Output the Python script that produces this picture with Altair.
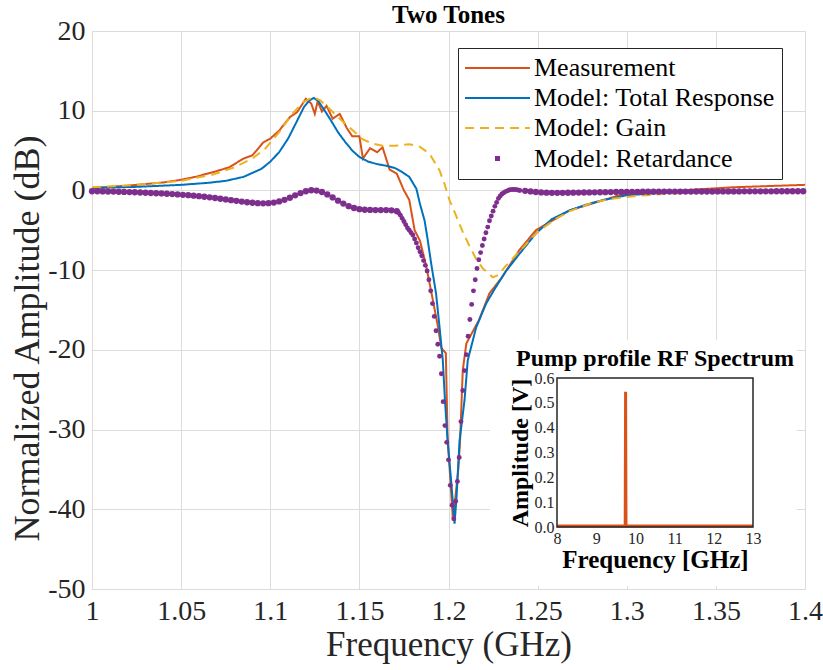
import altair as alt
import numpy as np
import pandas as pd

FONT = "Liberation Serif"

SERIES = ["Measurement", "Model: Total Response", "Model: Gain", "Model: Retardance"]
COLORS = ["#D95319", "#0072BD", "#EDB120", "#7E2F8E"]
DASHES = [[1, 0], [1, 0], [9, 6], [0, 30, 5, 100]]
WIDTHS = [2, 2, 2, 5]

X_TICKS = [1.0, 1.05, 1.1, 1.15, 1.2, 1.25, 1.3, 1.35, 1.4]
Y_TICKS = [-50, -40, -30, -20, -10, 0, 10, 20]

MEAS_F = [1.000, 1.010, 1.020, 1.030, 1.040, 1.049, 1.058, 1.068, 1.077, 1.085,
          1.090, 1.096, 1.100, 1.105, 1.111, 1.115, 1.120, 1.123, 1.125, 1.1266,
          1.129, 1.1316, 1.135, 1.139, 1.143, 1.146, 1.150, 1.152, 1.156, 1.160,
          1.163, 1.167, 1.171, 1.175, 1.178, 1.181, 1.184, 1.1875, 1.191, 1.194,
          1.196, 1.1985, 1.1995, 1.2025, 1.2055, 1.2065, 1.208, 1.210, 1.217, 1.223,
          1.230, 1.2397, 1.249, 1.268, 1.296, 1.323, 1.360, 1.400]
MEAS_DB = [0.3, 0.45, 0.6, 0.8, 1.0, 1.3, 1.7, 2.3, 2.9, 4.0,
           4.4, 6.0, 6.5, 7.5, 9.2, 9.8, 11.5, 10.9, 9.6, 11.2,
           9.9, 10.6, 9.0, 9.6, 7.8, 6.8, 6.8, 4.0, 5.3, 4.8,
           5.4, 2.6, 2.1, 0.0, -1.2, -5.0, -6.3, -9.5, -13.5, -17.0,
           -19.8, -20.4, -31.0, -41.4, -35.0, -31.4, -22.6, -19.2, -16.3, -12.9,
           -10.9, -7.5, -5.0, -2.5, -0.6, -0.1, 0.4, 0.7]

TOTAL_F = [1.000, 1.025, 1.050, 1.065, 1.075, 1.085, 1.095, 1.100, 1.105, 1.110,
           1.115, 1.119, 1.122, 1.1245, 1.127, 1.130, 1.134, 1.138, 1.142, 1.146,
           1.150, 1.155, 1.160, 1.165, 1.170, 1.174, 1.178, 1.182, 1.184, 1.1866,
           1.1884, 1.1903, 1.193, 1.195, 1.1968, 1.198, 1.1995, 1.2015, 1.2034, 1.2045,
           1.2062, 1.209, 1.2108, 1.2155, 1.2211, 1.2258, 1.232, 1.240, 1.249, 1.258,
           1.268, 1.277, 1.286, 1.300, 1.320, 1.340, 1.370, 1.400]
TOTAL_DB = [0.3, 0.45, 0.7, 0.95, 1.2, 1.7, 2.7, 3.6, 4.8, 6.5,
            8.7, 10.5, 11.3, 11.6, 11.2, 10.2, 8.8, 7.3, 6.1, 5.0,
            4.2, 3.6, 3.3, 3.1, 2.8, 2.3, 1.7, 0.2, -1.7, -3.8,
            -6.3, -9.2, -12.9, -17.2, -21.3, -26.3, -31.4, -36.5, -41.8, -38.5,
            -31.4, -26.3, -21.3, -17.2, -14.2, -12.4, -10.2, -7.9, -5.4, -3.6,
            -2.5, -1.8, -1.25, -0.6, -0.3, -0.15, -0.05, 0.0]

GAIN_F = [1.000, 1.025, 1.050, 1.068, 1.080, 1.090, 1.097, 1.105, 1.112, 1.118,
          1.124, 1.128, 1.133, 1.138, 1.143, 1.148, 1.152, 1.157, 1.163, 1.170,
          1.178, 1.1838, 1.1894, 1.195, 1.1978, 1.2006, 1.2043, 1.208, 1.2118, 1.2155,
          1.2193, 1.2248, 1.228, 1.232, 1.240, 1.250, 1.260, 1.268, 1.280, 1.290,
          1.305, 1.320, 1.340, 1.360, 1.380, 1.400]
GAIN_DB = [0.4, 0.7, 1.2, 2.0, 2.9, 4.0, 5.2, 7.3, 9.5, 11.0,
           11.7, 11.3, 10.3, 9.2, 8.2, 7.2, 6.4, 5.9, 5.6, 5.6,
           5.8, 5.5, 4.6, 2.5, 0.8, -1.25, -3.2, -5.2, -7.0, -8.6,
           -9.8, -10.9, -10.6, -9.5, -7.6, -5.2, -3.6, -2.6, -1.6, -1.1,
           -0.7, -0.45, -0.25, -0.12, -0.05, 0.0]

RET_A_START, RET_A_STEP = 1.000, 0.003
RET_A_DB = [-0.10, -0.10, -0.12, -0.13, -0.15, -0.17, -0.19, -0.21, -0.23, -0.26,
            -0.29, -0.32, -0.35, -0.38, -0.42, -0.46, -0.50, -0.55, -0.60, -0.66,
            -0.72, -0.79, -0.87, -0.95, -1.04, -1.13, -1.22, -1.31, -1.40, -1.48,
            -1.55, -1.60, -1.62, -1.60, -1.52, -1.38, -1.18, -0.92, -0.62, -0.33,
            -0.10, 0.02, -0.02, -0.20, -0.50, -0.88, -1.28, -1.65, -1.98, -2.20,
            -2.35, -2.42, -2.45, -2.46, -2.46, -2.47, -2.50, -2.60]
RET_B_START, RET_B_STEP = 1.172, 0.001
RET_B_DB = [-2.8, -3.1, -3.5, -3.9, -4.3, -4.7, -5.0, -5.3, -5.6,
            -6.1, -6.6, -7.2, -7.7, -8.2, -8.8, -9.4, -10.1, -11.2, -12.6,
            -14.2, -15.8, -17.6, -19.3, -20.8, -23.0, -26.5, -29.5, -31.6, -33.8,
            -37.0, -39.5, -41.2, -39.0, -36.5, -33.5, -29.0, -25.1, -22.6, -20.6,
            -18.3, -16.2, -14.3, -12.6, -11.2, -9.8, -8.7, -7.8, -6.9, -6.1,
            -5.3, -4.6, -3.8, -3.2, -2.6, -2.0, -1.5, -1.0, -0.7, -0.45,
            -0.3, -0.15, -0.05, 0.05, 0.1, 0.12, 0.12, 0.1, 0.05, 0.0]
RET_C_START, RET_C_STEP = 1.243, 0.003
RET_C_DB = [-0.05, -0.12, -0.2, -0.25, -0.28, -0.3, -0.3, -0.3, -0.29, -0.28,
            -0.27, -0.26, -0.25, -0.24, -0.23, -0.22, -0.21, -0.2, -0.2, -0.19,
            -0.18, -0.18, -0.17, -0.17, -0.16, -0.16, -0.15, -0.15, -0.15, -0.14,
            -0.14, -0.14, -0.13, -0.13, -0.13, -0.13, -0.12, -0.12, -0.12, -0.12,
            -0.12, -0.11, -0.11, -0.11, -0.11, -0.11, -0.11, -0.1, -0.1, -0.1,
            -0.1, -0.1, -0.1]

INSET_X_TICKS = [8, 9, 10, 11, 12, 13]
INSET_Y_TICKS = [0.0, 0.1, 0.2, 0.3, 0.4, 0.5, 0.6]
INSET_GHZ = [8.0, 9.74, 9.75, 9.76, 13.0]
INSET_AMP = [0.004, 0.004, 0.545, 0.004, 0.004]

# ---------------- data tables ----------------
lines_df = pd.concat([
    pd.DataFrame({"freq": MEAS_F, "db": MEAS_DB, "series": SERIES[0]}),
    pd.DataFrame({"freq": TOTAL_F, "db": TOTAL_DB, "series": SERIES[1]}),
    pd.DataFrame({"freq": GAIN_F, "db": GAIN_DB, "series": SERIES[2]}),
], ignore_index=True)


def block(start, step, vals):
    return pd.DataFrame({"freq": np.round(start + step * np.arange(len(vals)), 4), "db": vals})


ret_flat_df = pd.concat([
    block(RET_A_START, RET_A_STEP, RET_A_DB),
    block(RET_C_START, RET_C_STEP, RET_C_DB),
], ignore_index=True)
ret_steep_df = block(RET_B_START, RET_B_STEP, RET_B_DB)

inset_df = pd.DataFrame({"ghz": INSET_GHZ, "amp": INSET_AMP})
frame_df = pd.DataFrame({"ghz": [INSET_X_TICKS[0]], "ghz2": [INSET_X_TICKS[-1]],
                         "amp": [INSET_Y_TICKS[0]], "amp2": [INSET_Y_TICKS[-1]]})

# ---------------- main axes ----------------
x_main = alt.X("freq:Q", title="Frequency (GHz)",
               scale=alt.Scale(domain=[1.0, 1.4], nice=False, zero=False),
               axis=alt.Axis(values=X_TICKS, labelExpr="'' + datum.value", grid=True,
                             gridColor="#dcdcdc", ticks=False, domain=False,
                             labelFont=FONT, labelFontSize=28, labelColor="#262626",
                             titleFont=FONT, titleFontSize=35, titleFontWeight="normal",
                             titleColor="#262626", labelPadding=8, titlePadding=2,
                             labelFlush=False, labelOverlap=False))
y_main = alt.Y("db:Q", title="Normalized Amplitude (dB)",
               scale=alt.Scale(domain=[-50, 20], nice=False, zero=False),
               axis=alt.Axis(values=Y_TICKS, labelExpr="'' + datum.value", grid=True,
                             gridColor="#dcdcdc", ticks=False, domain=False,
                             labelFont=FONT, labelFontSize=28, labelColor="#262626",
                             titleFont=FONT, titleFontSize=36, titleFontWeight="normal",
                             titleColor="#262626", labelPadding=7, titlePadding=1,
                             titleY=307, labelFlush=False, labelOverlap=False))

LEGEND = alt.Legend(
    title=None, orient="none", legendX=366, legendY=17, fillColor="white",
    strokeColor="#262626", padding=7,
    labelFont=FONT, labelFontSize=26, labelColor="black", labelLimit=400,
    symbolType="M-3,0H3", symbolSize=469, symbolOffset=19, labelOffset=23,
    rowPadding=4,
)

lines = alt.Chart(lines_df).mark_line().encode(
    x=x_main,
    y=y_main,
    color=alt.Color("series:N", legend=LEGEND,
                    scale=alt.Scale(domain=SERIES, range=COLORS)),
    strokeDash=alt.StrokeDash("series:N", legend=LEGEND,
                              scale=alt.Scale(domain=SERIES, range=DASHES)),
    strokeWidth=alt.StrokeWidth("series:N", legend=LEGEND,
                                scale=alt.Scale(type="ordinal", domain=SERIES, range=WIDTHS)),
)

ret_flat = alt.Chart(ret_flat_df).mark_circle(size=40, opacity=1, color=COLORS[3]).encode(
    x="freq:Q", y="db:Q")
ret_steep = alt.Chart(ret_steep_df).mark_circle(size=24, opacity=1, color=COLORS[3]).encode(
    x="freq:Q", y="db:Q")

inset_bg = alt.Chart(pd.DataFrame({"k": [0]})).mark_rect(fill="white").encode(
    x=alt.value(398), x2=alt.value(705), y=alt.value(309), y2=alt.value(555))

main = alt.layer(lines, ret_flat, ret_steep, inset_bg)

# ---------------- inset ----------------
x_in = alt.X("ghz:Q", title="Frequency [GHz]",
             scale=alt.Scale(domain=[8, 13], range=[465, 661], nice=False, zero=False),
             axis=alt.Axis(orient="bottom", offset=-62, values=INSET_X_TICKS, format="d",
                           grid=False, ticks=False, domain=False, zindex=1,
                           labelFont=FONT, labelFontSize=16, labelColor="#262626",
                           labelPadding=3, labelFlush=False, labelOverlap=False,
                           titleFont=FONT, titleFontSize=25, titleFontWeight="bold",
                           titleColor="black", titlePadding=1))
y_in = alt.Y("amp:Q", title="Amplitude [V]",
             scale=alt.Scale(domain=[0, 0.6], range=[496, 347], nice=False, zero=False),
             axis=alt.Axis(orient="left", offset=-465, values=INSET_Y_TICKS, format=".1f",
                           grid=False, ticks=False, domain=False, zindex=1,
                           labelFont=FONT, labelFontSize=16, labelColor="#262626",
                           labelPadding=3, labelFlush=False, labelOverlap=False,
                           titleFont=FONT, titleFontSize=24, titleFontWeight="bold",
                           titleColor="black", titlePadding=2))

frame = alt.Chart(frame_df).mark_rect(fillOpacity=0, stroke="#262626", strokeWidth=1.5).encode(
    x=x_in, x2="ghz2:Q", y=y_in, y2="amp2:Q")

spike = alt.Chart(inset_df).mark_line(color=COLORS[0], strokeWidth=3).encode(x=x_in, y=y_in)

inset_title = alt.Chart(pd.DataFrame({"k": [0]})).mark_text(
    text="Pump profile RF Spectrum", font=FONT, fontSize=24, fontWeight="bold",
    color="black", baseline="bottom", dy=-7).encode(
    x=alt.datum((INSET_X_TICKS[0] + INSET_X_TICKS[-1]) / 2),
    y=alt.datum(INSET_Y_TICKS[-1]))

inset = alt.layer(spike, frame, inset_title)

chart = alt.layer(main, inset).resolve_scale(
    x="independent", y="independent"
).properties(
    width=713, height=558,
    title=alt.TitleParams("Two Tones", font=FONT, fontSize=25, fontWeight="bold",
                          color="black", anchor="middle", offset=-11),
    autosize=alt.AutoSizeParams(type="none"),
    padding={"left": 92, "top": 31, "right": 18, "bottom": 81},
).configure_view(
    stroke="#262626", strokeWidth=1
).configure(background="white")

chart.save("out.html", embed_options={"renderer": "svg", "actions": False})
